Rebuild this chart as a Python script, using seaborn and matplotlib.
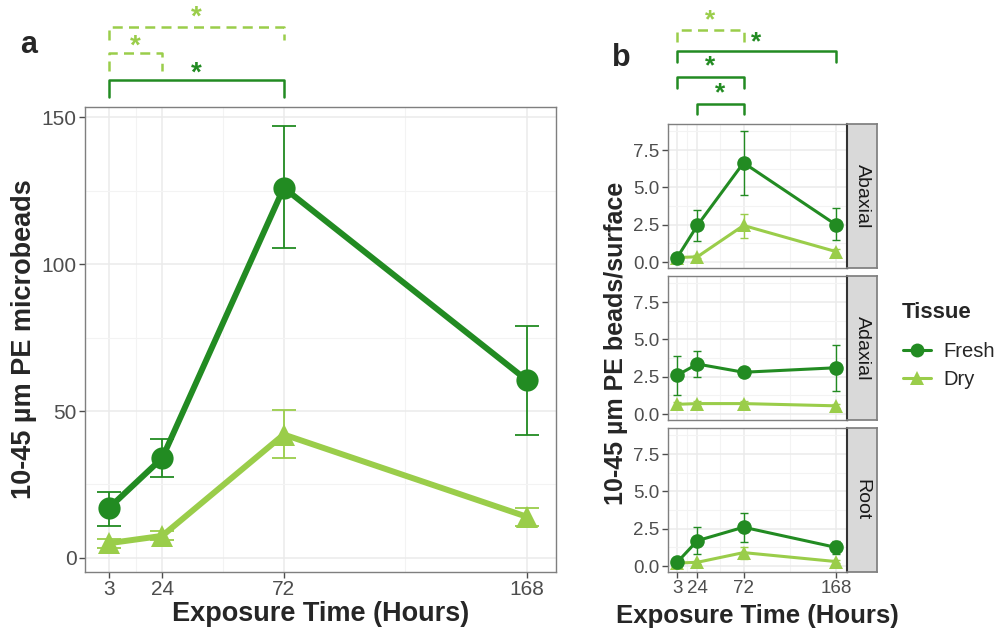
import numpy as np
import pandas as pd
import matplotlib
matplotlib.use("Agg")
import matplotlib.pyplot as plt
from matplotlib.lines import Line2D
from matplotlib.ticker import FixedLocator
import seaborn as sns

# ---- data ----
hours = [3, 24, 72, 168]
tissues = ["Fresh", "Dry"]
surfaces = ["Abaxial", "Adaxial", "Root"]

# panel a: whole plant counts
a_fresh = [17, 34, 126, 60.5]
a_fresh_lo = [11, 27.5, 105.5, 42]
a_fresh_hi = [22.5, 40.5, 147, 79]
a_dry = [5, 7.5, 42, 14]
a_dry_lo = [3.5, 6, 34, 11]
a_dry_hi = [6.5, 9, 50.5, 17]

# panel b: beads per surface
b_fresh = {"Abaxial": [0.3, 2.45, 6.65, 2.5],
           "Adaxial": [2.6, 3.35, 2.8, 3.1],
           "Root": [0.25, 1.7, 2.6, 1.25]}
b_fresh_lo = {"Abaxial": [0.15, 1.4, 4.5, 1.45],
              "Adaxial": [1.25, 2.5, 2.6, 1.55],
              "Root": [0.1, 0.8, 1.6, 0.8]}
b_fresh_hi = {"Abaxial": [0.45, 3.5, 8.8, 3.6],
              "Adaxial": [3.9, 4.2, 3.0, 4.6],
              "Root": [0.4, 2.6, 3.55, 1.7]}
b_dry = {"Abaxial": [0.3, 0.35, 2.45, 0.7],
         "Adaxial": [0.65, 0.7, 0.7, 0.55],
         "Root": [0.2, 0.25, 0.9, 0.3]}
b_dry_lo = {"Abaxial": [0.2, 0.25, 1.6, 0.5],
            "Adaxial": [0.5, 0.55, 0.55, 0.4],
            "Root": [0.1, 0.15, 0.5, 0.2]}
b_dry_hi = {"Abaxial": [0.4, 0.45, 3.25, 0.9],
            "Adaxial": [0.8, 0.85, 0.85, 0.7],
            "Root": [0.3, 0.35, 1.3, 0.4]}

# significance brackets: (x0, x1, bar height, tip height, tissue, star height)
a_brackets = [(3, 72, 162.6, 156.8, "Fresh", 164.8),
              (3, 24, 171.8, 165.6, "Dry", 174.2),
              (3, 72, 180.6, 176.2, "Dry", 184.0)]
b_brackets = [(3, 72, 15.55, 14.75, "Dry", 16.2),
              (3, 168, 14.15, 13.40, "Fresh", 14.7),
              (3, 72, 12.40, 11.65, "Fresh", 13.1),
              (24, 72, 10.60, 9.90, "Fresh", 11.3)]

colors = {"Fresh": "#228B22", "Dry": "#9ACD4A"}
markers = {"Fresh": "o", "Dry": "^"}

sns.set_theme(style="white")
plt.rcParams["font.family"] = ["Liberation Sans", "DejaVu Sans"]

fig = plt.figure(figsize=(9.98, 6.33), dpi=100)
W, H = 998, 633


def px_axes(l, t, r, b):
    return fig.add_axes([l / W, 1 - b / H, (r - l) / W, (b - t) / H])


def style_panel(ax, xlim, ylim, yticks, yminor, fs):
    ax.set_xlim(*xlim)
    ax.set_ylim(*ylim)
    ax.set_xticks(hours)
    ax.set_yticks(yticks)
    ax.xaxis.set_minor_locator(FixedLocator([13.5, 48, 120]))
    ax.yaxis.set_minor_locator(FixedLocator(yminor))
    ax.grid(True, which="major", color="#EBEBEB", lw=1.1)
    ax.grid(True, which="minor", color="#F3F3F3", lw=0.8)
    ax.set_axisbelow(True)
    for s in ax.spines.values():
        s.set_color("#7F7F7F")
        s.set_linewidth(1.0)
    ax.tick_params(axis="both", which="major", direction="out", length=4, width=1,
                   color="#4D4D4D", labelcolor="#4D4D4D", labelsize=fs, pad=2,
                   bottom=True, left=True)
    ax.tick_params(which="minor", length=0)
    ax.set_xlabel("")
    ax.set_ylabel("")


def draw_series(ax, fresh, flo, fhi, dry, dlo, dhi, lw, ms, cap, elw):
    df = pd.DataFrame({
        "Hours": hours * 2,
        "Value": list(fresh) + list(dry),
        "Tissue": ["Fresh"] * 4 + ["Dry"] * 4,
    })
    for t, v, lo, hi in [("Dry", dry, dlo, dhi), ("Fresh", fresh, flo, fhi)]:
        v = np.array(v)
        ax.errorbar(hours, v, yerr=[v - np.array(lo), np.array(hi) - v], fmt="none",
                    ecolor=colors[t], elinewidth=elw, capsize=cap, capthick=elw, zorder=2)
    sns.lineplot(data=df, x="Hours", y="Value", hue="Tissue", style="Tissue",
                 hue_order=["Dry", "Fresh"], style_order=["Dry", "Fresh"],
                 palette=colors, markers=markers, dashes=False, lw=lw,
                 markersize=ms, markeredgewidth=0, legend=False, ax=ax, zorder=3)


def draw_brackets(ax, brackets, lw, star_fs):
    for x0, x1, yb, yt, t, sy in brackets:
        ls = "-" if t == "Fresh" else (0, (4, 2.5))
        ax.plot([x0, x0, x1, x1], [yt, yb, yb, yt], color=colors[t], lw=lw,
                ls=ls, clip_on=False, solid_joinstyle="round")
        ax.text((x0 + x1) / 2, sy, "*", color=colors[t], fontsize=star_fs,
                ha="center", va="center", fontweight="bold", clip_on=False)


# ---- panel a ----
axa = px_axes(85, 107, 556, 572)
draw_series(axa, a_fresh, a_fresh_lo, a_fresh_hi, a_dry, a_dry_lo, a_dry_hi,
            lw=4.3, ms=16, cap=8.5, elw=1.3)
style_panel(axa, (-6.5, 179.5), (-4.8, 153.5), [0, 50, 100, 150], [25, 75, 125], 15)
axa.set_xlabel("Exposure Time (Hours)", fontsize=19.5, fontweight="bold", labelpad=1)
axa.set_ylabel("10-45 µm PE microbeads", fontsize=19.5, fontweight="bold", labelpad=3)
draw_brackets(axa, a_brackets, 1.8, 20)
fig.text(20 / W, 1 - 45 / H, "a", fontsize=22, fontweight="bold", va="center")

# ---- panel b ----
facet_px = [(124, 268), (276, 420), (428, 572)]
axes_b = []
for i, (surf, (top, bot)) in enumerate(zip(surfaces, facet_px)):
    ax = px_axes(668, top, 847, bot)
    draw_series(ax, b_fresh[surf], b_fresh_lo[surf], b_fresh_hi[surf],
                b_dry[surf], b_dry_lo[surf], b_dry_hi[surf],
                lw=2.2, ms=10.5, cap=3, elw=1.0)
    style_panel(ax, (-6.5, 179.5), (-0.4, 9.25), [0, 2.5, 5, 7.5],
                [1.25, 3.75, 6.25, 8.75], 13.5)
    ax.set_yticklabels(["0.0", "2.5", "5.0", "7.5"])
    if i < 2:
        ax.tick_params(axis="x", labelbottom=False, length=0)
    # strip on the right
    sax = px_axes(847, top, 877, bot)
    sax.set_facecolor("#D9D9D9")
    sax.set_xticks([])
    sax.set_yticks([])
    for s in sax.spines.values():
        s.set_color("#7F7F7F")
    sax.spines["left"].set_color("#333333")
    sax.spines["left"].set_linewidth(1.5)
    sax.text(0.5, 0.5, surf, rotation=270, ha="center", va="center",
             fontsize=14, color="#1A1A1A", transform=sax.transAxes)
    axes_b.append(ax)

draw_brackets(axes_b[0], b_brackets, 1.8, 19)
axes_b[2].set_xlabel("Exposure Time (Hours)", fontsize=18.5, fontweight="bold", labelpad=5)
fig.text(616 / W, 1 - 343 / H, "10-45 µm PE beads/surface", rotation=90,
         fontsize=18, fontweight="bold", ha="center", va="center")
fig.text(612 / W, 1 - 58 / H, "b", fontsize=22, fontweight="bold", va="center")

# ---- legend ----
handles = [Line2D([], [], color=colors[t], marker=markers[t], lw=2.2, markersize=10,
                  markeredgewidth=0) for t in tissues]
fig.text(902 / W, 1 - 313 / H, "Tissue", fontsize=16, fontweight="bold",
         ha="left", va="center")
fig.legend(handles, tissues, loc="upper left",
           bbox_to_anchor=(885 / W, 1 - 324 / H), frameon=False, fontsize=14.5,
           handlelength=1.4, handletextpad=0.6, labelspacing=0.45)

fig.savefig("out.png", dpi=100)
